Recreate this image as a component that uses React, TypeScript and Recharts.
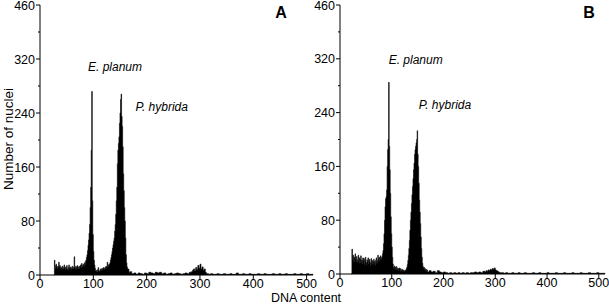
import React from 'react';
import { AreaChart, Area, XAxis, YAxis, ReferenceDot } from 'recharts';

// ---------- axis ticks ----------
const xTicks = [0, 100, 200, 300, 400, 500];
const yTickValues = [0, 40, 80, 120, 160, 200, 240, 280, 320, 360, 400];
const yMajorValues = [0, 80, 160, 240, 320, 400];
const yMajorLabels = ['0', '80', '160', '240', '320', '460'];

// ---------- panel A (channel counts) ----------
const aStart = 26; // first channel of the dense part
const aDense = [
  0, 22, 14, 10, 16, 12, 9, 13, 11, 19, // 26-35
  12, 14, 9, 12, 10, 8, 13, 11, 9, 15, // 36-45
  10, 8, 12, 10, 14, 9, 7, 11, 15, 9, // 46-55
  12, 10, 8, 11, 13, 9, 10, 12, 27, 11, // 56-65
  9, 13, 10, 12, 14, 9, 11, 13, 10, 12, // 66-75
  15, 11, 17, 12, 14, 16, 13, 18, 15, 20, // 76-85
  22, 26, 30, 36, 44, 52, 62, 75, 100, 130, // 86-95
  185, 272, 110, 60, 35, 22, 15, 10, 6, 5, // 96-105
  7, 5, 8, 11, 6, 5, 7, 9, 6, 8, // 106-115
  10, 7, 9, 11, 8, 10, 12, 9, 13, 11, // 116-125
  19, 12, 14, 16, 15, 18, 22, 26, 30, 35, // 126-135
  40, 45, 50, 55, 65, 75, 90, 110, 130, 165, // 136-145
  185, 195, 205, 225, 240, 260, 268, 235, 220, 190, // 146-155
  150, 125, 100, 80, 55, 30, 18, 12, 9, 6, // 156-165
  9, 4, 3, 5, // 166-169
];
const aTailCh = [
  172, 176, 180, 184, 188, 192, 196, 200, 204, 208, 212, 216, 220, 224, 228, 232, 236, 240,
  244, 248, 252, 256, 260, 264, 268, 272, 276, 280, 284, 286, 288, 290, 292, 294, 296, 298,
  300, 302, 304, 306, 308, 310, 312, 316, 320, 324, 328, 332, 336, 340, 344, 348, 352, 356,
  360, 364, 368, 372, 376, 380, 384, 388, 392, 396, 400, 404, 408, 412, 416, 420, 424, 428,
  432, 436, 440, 444, 448, 452, 456, 460, 464, 468, 472, 476, 480, 484, 488, 492, 496, 500,
  504, 508, 512,
];
const aTailVals = [
  2, 3, 1, 3, 2, 1, 3, 2, 4, 3, 2, 4, 3, 4, 2, 3, 1, 2,
  3, 1, 2, 3, 2, 1, 2, 3, 2, 4, 5, 7, 9, 6, 11, 8, 14, 10,
  16, 9, 12, 7, 9, 4, 2, 1, 2, 1, 1, 2, 1, 1, 2, 1, 1, 2,
  1, 1, 3, 1, 1, 2, 1, 1, 2, 1, 1, 1, 2, 1, 1, 2, 1, 1,
  1, 2, 1, 1, 2, 1, 1, 2, 1, 1, 1, 2, 1, 1, 2, 1, 1, 2,
  1, 1, 0,
];

// ---------- panel B (channel counts) ----------
const bStart = 22;
const bDense = [
  0, 37, 22, 28, 20, 25, 18, 30, 22, 19, // 22-31
  26, 21, 17, 28, 20, 24, 16, 22, 27, 18, // 32-41
  21, 15, 24, 19, 23, 14, 20, 25, 17, 13, // 42-51
  21, 18, 24, 15, 19, 22, 12, 17, 23, 16, // 52-61
  20, 14, 18, 22, 15, 19, 13, 21, 24, 16, // 62-71
  20, 28, 23, 19, 25, 21, 27, 22, 24, 26, // 72-81
  30, 35, 45, 60, 80, 100, 112, 115, 125, 160, // 82-91
  185, 200, 285, 190, 155, 120, 85, 60, 40, 25, // 92-101
  15, 10, 8, 12, 7, 10, 6, 11, 9, 6, // 102-111
  8, 5, 9, 7, 4, 8, 6, 5, 7, 4, // 112-121
  6, 3, 5, 4, 6, 5, 8, 10, 14, 20, // 122-131
  28, 38, 50, 65, 80, 92, 105, 118, 130, 142, // 132-141
  155, 165, 178, 185, 190, 195, 200, 213, 178, 160, // 142-151
  135, 110, 92, 75, 55, 38, 25, 16, 11, 8, // 152-161
  10, 6, 8, 5, 7, 4, 6, 3, // 162-169
];
const bTailCh = [
  172, 176, 180, 184, 188, 192, 196, 200, 204, 208, 212, 216, 220, 224, 228, 232, 236, 240,
  244, 248, 252, 256, 260, 264, 268, 272, 276, 280, 282, 284, 286, 288, 290, 292, 294, 296,
  298, 300, 302, 304, 306, 308, 312, 316, 320, 324, 328, 332, 336, 340, 344, 348, 352, 356,
  360, 364, 368, 372, 376, 380, 384, 388, 392, 396, 400, 404, 408, 412, 416, 420, 424, 428,
  432, 436, 440, 444, 448, 452, 456, 460, 464, 468, 472, 476, 480, 484, 488, 492, 496, 500,
  504, 508, 512,
];
const bTailVals = [
  5, 3, 4, 2, 5, 3, 2, 3, 2, 1, 2, 1, 2, 1, 2, 1, 2, 1,
  2, 1, 2, 2, 3, 2, 3, 2, 4, 3, 5, 4, 6, 5, 7, 6, 8, 7,
  9, 6, 5, 4, 3, 2, 2, 1, 2, 1, 1, 2, 1, 1, 2, 1, 1, 2,
  1, 1, 1, 2, 1, 1, 2, 1, 1, 1, 2, 1, 1, 1, 2, 1, 1, 1,
  2, 1, 1, 1, 2, 1, 1, 1, 2, 1, 1, 1, 2, 1, 1, 1, 2, 1,
  1, 1, 0,
];

// ---------- annotations ----------
const aLabels = [
  { text: 'E. planum', ch: 90, v: 302 },
  { text: 'P. hybrida', ch: 179, v: 243 },
];
const bLabels = [
  { text: 'E. planum', ch: 94, v: 312 },
  { text: 'P. hybrida', ch: 152, v: 245 },
];

const FONT = '"Liberation Sans", Arial, Helvetica, sans-serif';

function build(start: number, dense: number[], tailCh: number[], tailVals: number[]) {
  const out: { ch: number; v: number }[] = dense.map((v, i) => ({ ch: start + i, v }));
  tailCh.forEach((c, i) => out.push({ ch: c, v: tailVals[i] }));
  return out;
}

const dataA = build(aStart, aDense, aTailCh, aTailVals);
const dataB = build(bStart, bDense, bTailCh, bTailVals);

const TICK_SIZE = 4;
const TICK_MARGIN = 1;
const TICK_FONT = 12.5;

const YTick = (props: any) => {
  const { x, y, payload } = props;
  const axisX = x + TICK_SIZE + TICK_MARGIN;
  const idx = yMajorValues.indexOf(payload.value);
  const major = idx >= 0;
  return (
    <g>
      <line x1={axisX - (major ? 4 : 2)} x2={axisX} y1={y} y2={y} stroke="#000" strokeWidth={1} />
      {major && (
        <text x={x} y={y} dy={4.5} textAnchor="end" fontSize={TICK_FONT} fontFamily={FONT} fill="#000">
          {yMajorLabels[idx]}
        </text>
      )}
    </g>
  );
};

const XTick = (props: any) => {
  const { x, y, payload } = props;
  return (
    <text x={x} y={y} dy={8} textAnchor="middle" fontSize={TICK_FONT} fontFamily={FONT} fill="#000">
      {payload.value}
    </text>
  );
};

function Panel(props: {
  data: { ch: number; v: number }[];
  width: number;
  margin: { top: number; right: number; left: number; bottom: number };
  labels: { text: string; ch: number; v: number }[];
}) {
  const { data, width, margin, labels } = props;
  return (
    <AreaChart width={width} height={305} data={data} margin={margin}>
      <XAxis
        dataKey="ch"
        type="number"
        domain={[0, 512]}
        ticks={xTicks}
        height={30}
        stroke="#000"
        tickSize={TICK_SIZE}
        tickMargin={TICK_MARGIN}
        tick={<XTick />}
        interval={0}
      />
      <YAxis
        type="number"
        domain={[0, 400]}
        ticks={yTickValues}
        width={40}
        stroke="#000"
        tickLine={false}
        tickSize={TICK_SIZE}
        tickMargin={TICK_MARGIN}
        tick={<YTick />}
        interval={0}
      />
      <Area
        type="stepAfter"
        dataKey="v"
        stroke="#000"
        strokeWidth={0.6}
        fill="#000"
        fillOpacity={1}
        dot={false}
        activeDot={false}
        isAnimationActive={false}
      />
      {labels.map((l) => (
        <ReferenceDot
          key={l.text}
          x={l.ch}
          y={l.v}
          r={0}
          ifOverflow="visible"
          shape={(p: any) => (
            <text x={p.cx} y={p.cy} fontSize={12} fontStyle="italic" fontFamily={FONT} fill="#000">
              {l.text}
            </text>
          )}
        />
      ))}
    </AreaChart>
  );
}

export default function App() {
  return (
    <div
      style={{
        position: 'absolute',
        left: 0,
        top: 0,
        width: 609,
        height: 305,
        background: '#fff',
        fontFamily: FONT,
        overflow: 'hidden',
      }}
    >
      <div style={{ position: 'absolute', left: 0, top: 0 }}>
        <Panel data={dataA} width={320} margin={{ top: 5, right: 7, left: 0, bottom: 0 }} labels={aLabels} />
      </div>
      <div style={{ position: 'absolute', left: 300, top: 0 }}>
        <Panel data={dataB} width={309} margin={{ top: 5, right: 4, left: 0, bottom: 1 }} labels={bLabels} />
      </div>
      <svg
        width={609}
        height={305}
        style={{ position: 'absolute', left: 0, top: 0, pointerEvents: 'none' }}
      >
        <text
          transform="translate(13,139) rotate(-90)"
          textAnchor="middle"
          fontSize={13.5}
          fontFamily={FONT}
          fill="#000"
        >
          Number of nuclei
        </text>
        <text x={306} y={302.3} textAnchor="middle" fontSize={12.5} fontFamily={FONT} fill="#000">
          DNA content
        </text>
        <text x={281} y={18} textAnchor="middle" fontSize={16} fontWeight="bold" fontFamily={FONT} fill="#000">
          A
        </text>
        <text x={589} y={18} textAnchor="middle" fontSize={16} fontWeight="bold" fontFamily={FONT} fill="#000">
          B
        </text>
      </svg>
    </div>
  );
}
